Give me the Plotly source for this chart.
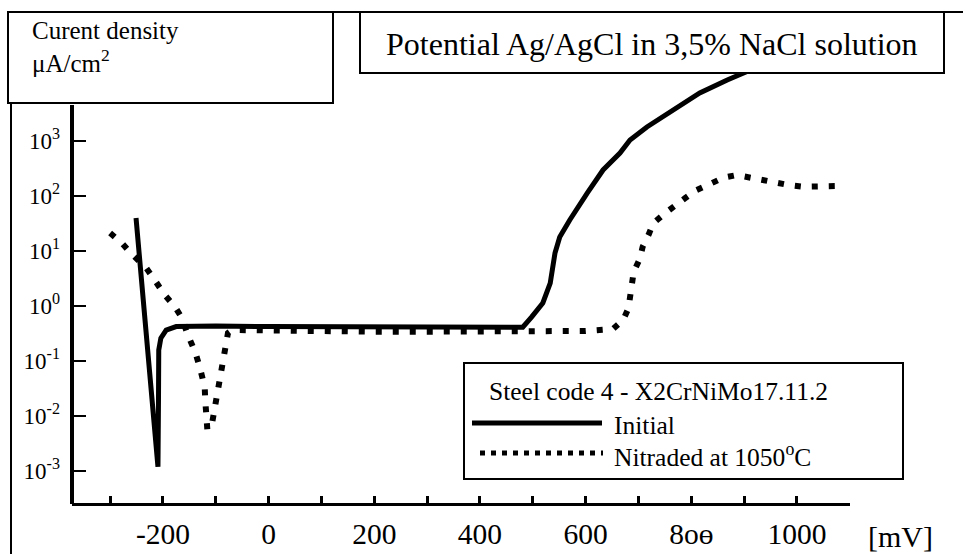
import plotly.graph_objects as go

# ---------------- data ----------------
initial_mV = [-251, -209.5, -208.5, -208, -204, -194, -175, -130, -100, 0, 100, 200, 300, 400, 470,
              481, 498, 519, 533, 538, 542, 551, 570, 603, 633, 665, 684, 716, 765, 816, 868, 898, 930]
initial_j = [39.4, 1.2e-3, 0.0195, 0.158, 0.26, 0.364, 0.42, 0.43, 0.43, 0.42, 0.42, 0.42, 0.41, 0.41, 0.41,
             0.41, 0.63, 1.13, 2.6, 6.0, 9.1, 17.8, 36.3, 112, 294, 598, 1030, 1775, 3614, 7350, 12680, 17000, 22750]

nitrided_mV = [-300, -278, -261, -232, -217, -198, -177, -164, -153, -139, -130, -121, -120, -117, -116,
               -107, -102, -96, -92, -88, -86, -83, -77, -69, -35, 0, 100, 200, 300, 400, 500, 600, 652,
               671, 681, 684, 690, 691, 703, 708, 719, 728, 750, 769, 788, 810, 835, 861, 886, 917, 946,
               984, 1012, 1040, 1075]
nitrided_j = [21, 13.9, 9.1, 4.9, 3.08, 1.64, 0.95, 0.60, 0.295, 0.145, 0.0743, 0.0336, 0.0195, 0.0092, 0.0056,
              0.00745, 0.0139, 0.0221, 0.0365, 0.0628, 0.0955, 0.158, 0.321, 0.364, 0.36, 0.35, 0.34, 0.34,
              0.34, 0.35, 0.35, 0.35, 0.38,
              0.553, 0.90, 1.47, 2.57, 4.17, 7.3, 11.9, 19.4, 31.6, 48, 68, 90, 127, 168, 213, 238, 207, 180,
              157, 146, 146, 150]

x_tick_vals = [-300, -200, -100, 0, 100, 200, 300, 400, 500, 600, 700, 800, 900, 1000]
x_tick_text = ["", "-200", "", "0", "", "200", "", "400", "", "600", "", "8o\u0275", "", "1000"]
y_tick_vals = [1e-3, 1e-2, 1e-1, 1e0, 1e1, 1e2, 1e3]
y_tick_text = ["10<sup>-3</sup>", "10<sup>-2</sup>", "10<sup>-1</sup>", "10<sup>0</sup>",
               "10<sup>1</sup>", "10<sup>2</sup>", "10<sup>3</sup>"]

title_text = "Potential Ag/AgCl in 3,5% NaCl solution"
ylabel_text = "Curent density<br>\u03bcA/cm<sup>2</sup>"
legend_title = "Steel code 4 - X2CrNiMo17.11.2"
legend_names = ["Initial", "Nitraded at 1050<sup>o</sup>C"]
x_unit = "[mV]"

# ---------------- layout geometry ----------------
W, H = 963, 554
L, R, T, B = 72, 113, 60, 51
PW, PH = W - L - R, H - T - B
FONT = "Liberation Serif"


def px(xp):
    return (xp - L) / PW


def py(yp):
    return (H - B - yp) / PH


fig = go.Figure()
fig.add_trace(go.Scatter(x=initial_mV, y=initial_j, mode="lines", name=legend_names[0],
                         line=dict(color="black", width=5), showlegend=False))
fig.add_trace(go.Scatter(x=nitrided_mV, y=nitrided_j, mode="lines", name=legend_names[1],
                         line=dict(color="black", width=6, dash="6px,11px"), showlegend=False))

fig.update_xaxes(range=[-372.2, 1100.4], tickmode="array", tickvals=x_tick_vals, ticktext=x_tick_text,
                 ticks="inside", ticklen=7, tickwidth=3, tickcolor="black", automargin=False,
                 showline=True, linewidth=3, linecolor="black", showgrid=False, zeroline=False,
                 tickfont=dict(family=FONT, size=29.5, color="black"), ticklabelstandoff=3)
fig.update_yaxes(type="log", range=[-3.581, 4.466], tickmode="array", tickvals=y_tick_vals,
                 ticktext=y_tick_text, ticks="inside", ticklen=14, tickwidth=2, tickcolor="black",
                 showline=False, showgrid=False, zeroline=False, automargin=False,
                 tickfont=dict(family=FONT, size=23, color="black"), ticklabelstandoff=11)

shapes = []
# y axis line (shorter than plot area)
shapes.append(dict(type="line", xref="paper", yref="paper", x0=0, x1=0, y0=py(504), y1=py(105),
                   line=dict(color="black", width=4)))
# frame: top line, left line
shapes.append(dict(type="line", xref="paper", yref="paper", x0=px(8), x1=px(963), y0=py(12), y1=py(12),
                   line=dict(color="black", width=2)))
shapes.append(dict(type="line", xref="paper", yref="paper", x0=px(11), x1=px(11), y0=py(103), y1=py(554),
                   line=dict(color="black", width=2)))
# y-label box
shapes.append(dict(type="rect", xref="paper", yref="paper", x0=px(8), x1=px(333), y0=py(103), y1=py(12),
                   line=dict(color="black", width=2), fillcolor="white", layer="above"))
# title box
shapes.append(dict(type="rect", xref="paper", yref="paper", x0=px(360), x1=px(944), y0=py(73), y1=py(12),
                   line=dict(color="black", width=2), fillcolor="white", layer="above"))
# legend box
shapes.append(dict(type="rect", xref="paper", yref="paper", x0=px(464), x1=px(903), y0=py(479), y1=py(363),
                   line=dict(color="black", width=2), fillcolor="white", layer="above"))
# legend samples
shapes.append(dict(type="line", xref="paper", yref="paper", x0=px(472), x1=px(602), y0=py(423), y1=py(423),
                   line=dict(color="black", width=5), layer="above"))
shapes.append(dict(type="line", xref="paper", yref="paper", x0=px(480), x1=px(603), y0=py(453), y1=py(453),
                   line=dict(color="black", width=5, dash="5px,6px"), layer="above"))

annotations = [
    dict(text=title_text, xref="paper", yref="paper", x=px(652), y=py(44), xanchor="center", yanchor="middle",
         showarrow=False, font=dict(family=FONT, size=32, color="black")),
    dict(text=ylabel_text, xref="paper", yref="paper", x=px(30), y=py(15), xanchor="left", yanchor="top",
         align="left", showarrow=False, font=dict(family=FONT, size=25, color="black")),
    dict(text=legend_title, xref="paper", yref="paper", x=px(487), y=py(391), xanchor="left", yanchor="middle",
         showarrow=False, font=dict(family=FONT, size=25.5, color="black")),
    dict(text=legend_names[0], xref="paper", yref="paper", x=px(612), y=py(425), xanchor="left",
         yanchor="middle", showarrow=False, font=dict(family=FONT, size=25.5, color="black")),
    dict(text=legend_names[1], xref="paper", yref="paper", x=px(612), y=py(455), xanchor="left",
         yanchor="middle", showarrow=False, font=dict(family=FONT, size=25.5, color="black")),
    dict(text=x_unit, xref="paper", yref="paper", x=px(866), y=py(536), xanchor="left", yanchor="middle",
         showarrow=False, font=dict(family=FONT, size=30, color="black")),
]

fig.update_layout(width=W, height=H, margin=dict(l=L, r=R, t=T, b=B, pad=0, autoexpand=False),
                  paper_bgcolor="white", plot_bgcolor="white", showlegend=False,
                  shapes=shapes, annotations=annotations,
                  font=dict(family=FONT, color="black"))

fig.write_html("out.html", config={"displayModeBar": False},
               post_script="document.body.style.margin='0px';document.body.style.overflow='hidden';")
